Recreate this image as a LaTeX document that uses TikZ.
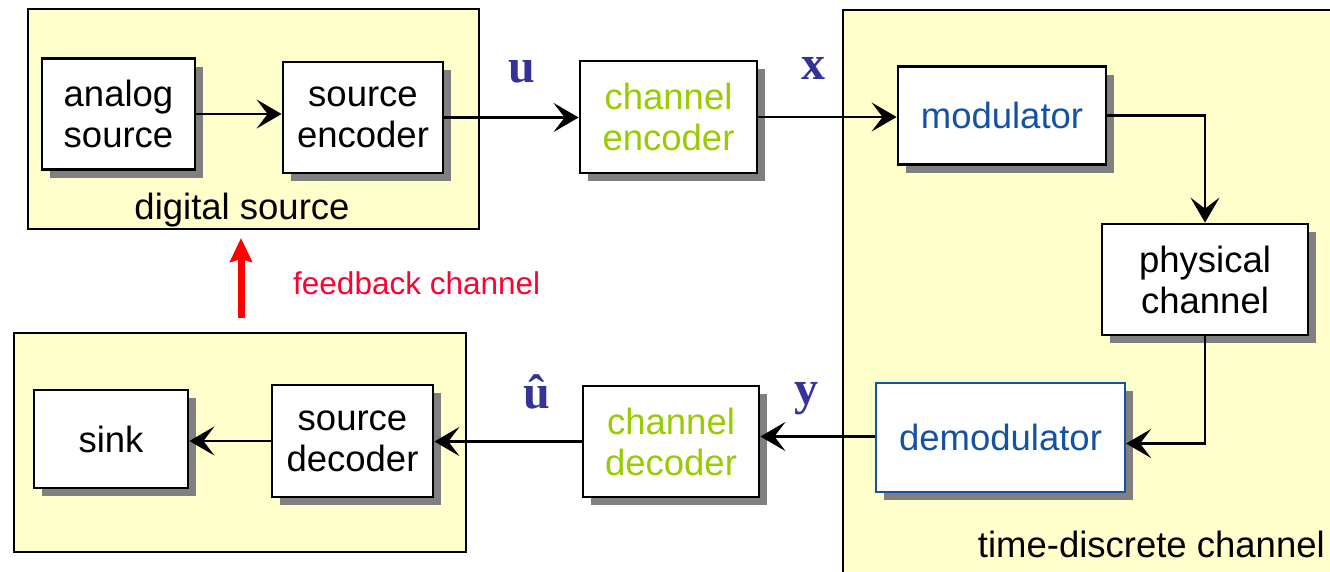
\documentclass[tikz,border=0pt]{standalone}
\usepackage{fontspec}
\setmainfont{Liberation Sans}
\newfontfamily\lblfont{Liberation Serif}
\usetikzlibrary{arrows.meta,shadows}
\definecolor{panel}{HTML}{FFFFCC}
\definecolor{shade}{HTML}{808080}
\definecolor{chgreen}{HTML}{99CC00}
\definecolor{modblue}{HTML}{1553A0}
\definecolor{lblblue}{HTML}{333399}
\definecolor{fbred}{HTML}{FF0033}
\tikzset{
  blk/.style={draw=black, line width=2.8pt, fill=white, align=center, inner sep=0pt,
    font=\fontsize{36.5}{41}\selectfont,
    drop shadow={shadow xshift=8pt, shadow yshift=-8pt, fill=shade, opacity=1}},
  panelbox/.style={draw=black, line width=2.2pt, fill=panel},
  conn/.style={line width=2.5pt, -{Stealth[length=25pt,width=29pt,inset=11pt]}},
  sig/.style={font=\lblfont\bfseries\fontsize{48}{48}\selectfont, text=lblblue, anchor=base, inner sep=0pt},
  captext/.style={font=\fontsize{36.5}{41}\selectfont, inner sep=0pt}
}
\begin{document}
\begin{tikzpicture}[x=1pt,y=-1pt]
\useasboundingbox (0,0) rectangle (1330,571);
\clip (0,0) rectangle (1330,571);
% panels
\draw[panelbox] (28,9) rectangle (479,229);
\draw[panelbox] (14,333) rectangle (466,552);
\draw[panelbox] (843,10) rectangle (1345,590);
\node[captext, anchor=base] (dsrc) at (242,219) {digital source};
\node[captext, anchor=base east] (tdc) at (1325,557) {time-discrete channel};
% blocks
\node[blk, minimum width=153pt, minimum height=111pt] (analog) at (118.5,114) {analog\\source};
\node[blk, minimum width=160pt, minimum height=111pt] (srcenc) at (363,117.5) {source\\encoder};
\node[blk, minimum width=177pt, minimum height=112pt, text=chgreen] (chenc) at (668.5,117) {channel\\encoder};
\node[blk, minimum width=208pt, minimum height=98pt, text=modblue] (mod) at (1002,115.5) {modulator};
\node[blk, minimum width=206pt, minimum height=111pt] (phys) at (1205,279.5) {physical\\channel};
\node[blk, draw=modblue, line width=2.2pt, minimum width=249pt, minimum height=109pt, text=modblue] (demod) at (1000.5,437.5) {demodulator};
\node[blk, minimum width=176pt, minimum height=111pt, text=chgreen] (chdec) at (671,441.5) {channel\\decoder};
\node[blk, minimum width=161pt, minimum height=112pt] (srcdec) at (352.5,441) {source\\decoder};
\node[blk, minimum width=154pt, minimum height=98pt] (sink) at (111,439) {sink};
% connectors
\draw[conn] (analog.east) -- (analog.east -| srcenc.west);
\draw[conn] (srcenc.east) -- (srcenc.east -| chenc.west);
\draw[conn] (chenc.east) -- (chenc.east -| mod.west);
\draw[conn] (mod.east) -| (phys.north);
\draw[conn] (phys.south) |- ([yshift=-6pt]demod.east);
\draw[conn] ([yshift=1pt]demod.west) -- ([yshift=1pt]demod.west -| chdec.east);
\draw[conn] (chdec.west) -- (chdec.west -| srcdec.east);
\draw[conn] (srcdec.west) -- (srcdec.west -| sink.east);
% signal labels
\node[sig] (u) at (522,82) {u};
\node[sig] (x) at (813,79) {x};
\node[sig] (uh) at (537,408) {û};
\node[sig] (y) at (806,404) {y};
% feedback
\coordinate (fb0) at (241,318);
\coordinate (fb1) at (241,238);
\draw[red, line width=7pt, -{Stealth[length=24pt,width=22pt,inset=3pt]}] (fb0) -- (fb1);
\node[text=fbred, font=\fontsize{31.5}{36}\selectfont, anchor=west, inner sep=0pt] (fbl) at (293,283) {feedback channel};
\end{tikzpicture}
\end{document}
